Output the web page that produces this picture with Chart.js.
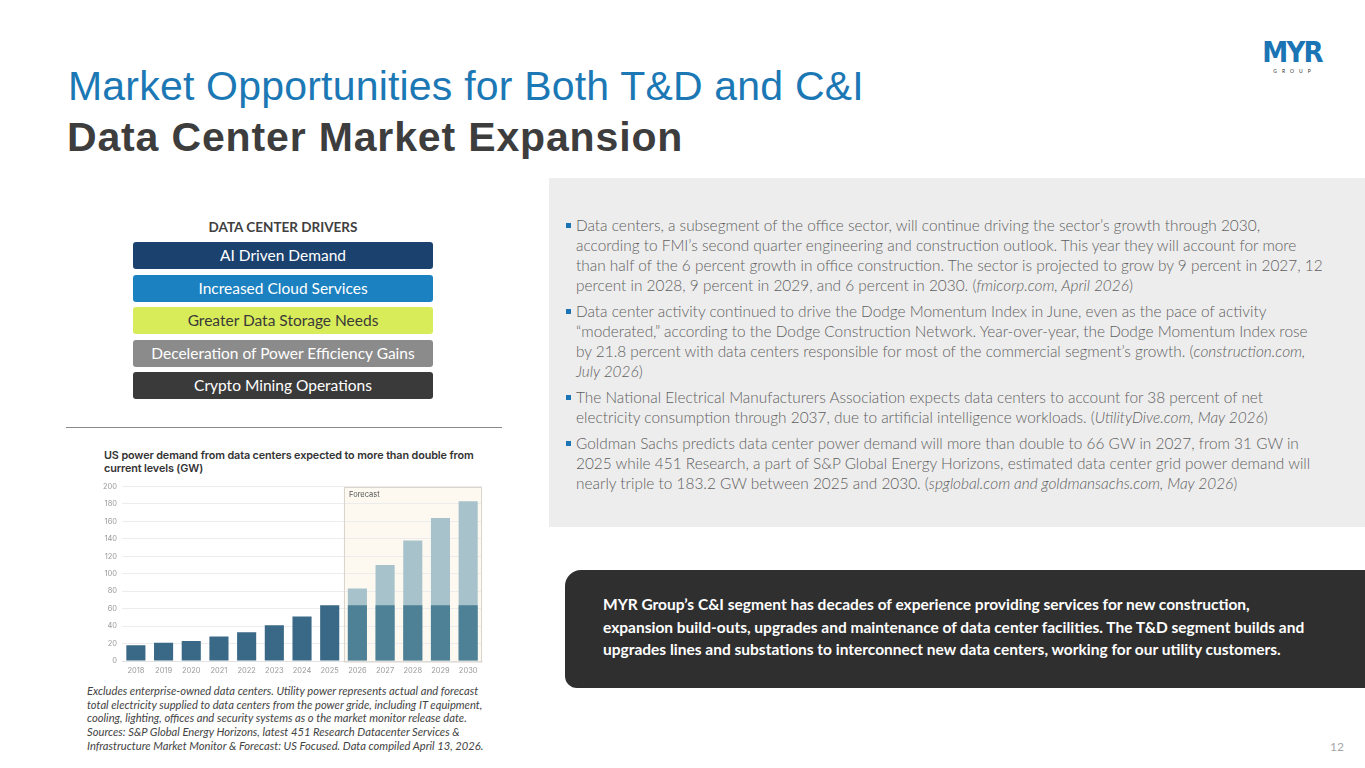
<!DOCTYPE html>
<html>
<head>
<meta charset="utf-8">
<script src="https://cdn.jsdelivr.net/npm/chart.js@4.4.1/dist/chart.umd.min.js"></script>
<style>
  html, body { margin: 0; padding: 0; }
  body { width: 1365px; height: 768px; position: relative; background: #fff; overflow: hidden; font-family: Lato, "Open Sans", sans-serif; }
  .abs { position: absolute; }
  #title1 { left: 68px; top: 63px; font-family: "Liberation Sans", Arial, sans-serif; font-size: 41px; color: #1b78b5; white-space: nowrap; letter-spacing: 0.2px; }
  #title2 { left: 67px; top: 114px; font-family: "Liberation Sans", Arial, sans-serif; font-size: 41px; font-weight: bold; color: #3d3d3d; white-space: nowrap; letter-spacing: 0.85px; }
  #logo { left: 1259px; top: 39px; width: 66px; text-align: center; color: #1b75b5; }
  #logo .m { font-family: "DejaVu Sans Condensed", "DejaVu Sans", sans-serif; font-weight: bold; font-size: 29px; line-height: 27px; letter-spacing: -1.8px; }
  #logo .g { font-size: 5px; letter-spacing: 5px; margin-left: 5px; color: #333; line-height: 6px; margin-top: 2px; }
  #panel { left: 549px; top: 178px; width: 816px; height: 349px; background: #ededed; }
  #bullets { left: 566px; top: 215px; color: #5f5f5f; font-size: 15.4px; line-height: 20px; letter-spacing: 0; font-weight: 300; }
  #bullets .b { position: relative; padding-left: 10px; margin-bottom: 6px; white-space: nowrap; }
  #bullets .b::before { content: ""; position: absolute; left: 0; top: 8px; width: 5px; height: 5px; background: #1b75b5; }
  #drvtitle { left: 133px; top: 219px; width: 300px; text-align: center; font-weight: bold; font-size: 13.5px; color: #404040; }
  .drv { left: 133px; width: 300px; height: 27px; border-radius: 3px; color: #fff; text-align: center; font-size: 15.5px; line-height: 27px; }
  #rule { left: 66px; top: 427px; width: 436px; height: 1px; background: #8a8a8a; }
  #ctitle { left: 104px; top: 450px; font-family: Inter, sans-serif; font-weight: 600; font-size: 10.8px; line-height: 12.5px; color: #333; white-space: nowrap; letter-spacing: -0.1px; }
  #chartwrap { left: 98px; top: 477px; width: 392px; height: 203px; }
  #foot { left: 87px; top: 684px; font-style: italic; font-size: 11.2px; line-height: 13.7px; color: #444; white-space: nowrap; }
  #dark { left: 565px; top: 570px; width: 800px; height: 118px; background: #2f2f2f; border-radius: 16px 0 0 12px; }
  #darktext { left: 603px; top: 593px; color: #fff; font-weight: bold; font-size: 15.5px; line-height: 22.5px; white-space: nowrap; }
  #pg { left: 1330px; top: 739px; font-size: 12px; color: #a6a6a6; }
</style>
</head>
<body>
<div id="title1" class="abs">Market Opportunities for Both T&amp;D and C&amp;I</div>
<div id="title2" class="abs">Data Center Market Expansion</div>
<div id="logo" class="abs"><div class="m">MYR</div><div class="g">GROUP</div></div>

<div id="panel" class="abs"></div>
<div id="bullets" class="abs">
  <div class="b">Data centers, a subsegment of the office sector, will continue driving the sector’s growth through 2030,<br>according to FMI’s second quarter engineering and construction outlook. This year they will account for more<br>than half of the 6 percent growth in office construction. The sector is projected to grow by 9 percent in 2027, 12<br>percent in 2028, 9 percent in 2029, and 6 percent in 2030. (<i>fmicorp.com, April 2026</i>)</div>
  <div class="b">Data center activity continued to drive the Dodge Momentum Index in June, even as the pace of activity<br>“moderated,” according to the Dodge Construction Network. Year-over-year, the Dodge Momentum Index rose<br>by 21.8 percent with data centers responsible for most of the commercial segment’s growth. (<i>construction.com,<br>July 2026</i>)</div>
  <div class="b">The National Electrical Manufacturers Association expects data centers to account for 38 percent of net<br>electricity consumption through 2037, due to artificial intelligence workloads. (<i>UtilityDive.com, May 2026</i>)</div>
  <div class="b">Goldman Sachs predicts data center power demand will more than double to 66 GW in 2027, from 31 GW in<br>2025 while 451 Research, a part of S&amp;P Global Energy Horizons, estimated data center grid power demand will<br>nearly triple to 183.2 GW between 2025 and 2030. (<i>spglobal.com and goldmansachs.com, May 2026</i>)</div>
</div>

<div id="drvtitle" class="abs">DATA CENTER DRIVERS</div>
<div class="abs drv" style="top:242px;background:#1b426f;">AI Driven Demand</div>
<div class="abs drv" style="top:275px;background:#1b81c0;">Increased Cloud Services</div>
<div class="abs drv" style="top:307px;background:#d8eb58;color:#3a3a3a;">Greater Data Storage Needs</div>
<div class="abs drv" style="top:340px;background:#8b8b8b;">Deceleration of Power Efficiency Gains</div>
<div class="abs drv" style="top:372px;background:#3a3a3a;">Crypto Mining Operations</div>
<div id="rule" class="abs"></div>

<div id="ctitle" class="abs">US power demand from data centers expected to more than double from<br>current levels (GW)</div>
<div id="chartwrap" class="abs"><canvas id="powerChart"></canvas></div>

<div id="foot" class="abs">Excludes enterprise-owned data centers. Utility power represents actual and forecast<br>total electricity supplied to data centers from the power gride, including IT equipment,<br>cooling, lighting, offices and security systems as o the market monitor release date.<br>Sources: S&amp;P Global Energy Horizons, latest 451 Research Datacenter Services &amp;<br>Infrastructure Market Monitor &amp; Forecast: US Focused. Data compiled April 13, 2026.</div>

<div id="dark" class="abs"></div>
<div id="darktext" class="abs">MYR Group’s C&amp;I segment has decades of experience providing services for new construction,<br>expansion build-outs, upgrades and maintenance of data center facilities. The T&amp;D segment builds and<br>upgrades lines and substations to interconnect new data centers, working for our utility customers.</div>
<div id="pg" class="abs">12</div>

<script>
// Chart data (GW)
const years = ['2018', '2019', '2020', '2021', '2022', '2023', '2024', '2025', '2026', '2027', '2028', '2029', '2030'];
const actualGW = [18, 21, 23, 28, 33, 41, 51, 64, 64, 64, 64, 64, 64];
const forecastTotalGW = [null, null, null, null, null, null, null, null, 83, 110, 138, 164, 183.2];
const forecastStart = 8; // index of first forecast year
const yTicks = [0, 20, 40, 60, 80, 100, 120, 140, 160, 180, 200];

const actualColors = years.map((y, i) => i < forecastStart ? '#3a6887' : '#4e8195');

// Forecast shaded region
function forecastLeft(scales) {
    return (scales.x.getPixelForValue(forecastStart - 1) + scales.x.getPixelForValue(forecastStart)) / 2;
}

const forecastBox = {
    id: 'forecastBox',
    beforeDraw(chart) {
        const { ctx, chartArea, scales } = chart;
        const x0 = forecastLeft(scales);
        ctx.save();
        ctx.fillStyle = '#fdf9f1';
        ctx.fillRect(x0, chartArea.top, chartArea.right - x0, chartArea.bottom - chartArea.top);
        ctx.restore();
    },
    afterDatasetsDraw(chart) {
        const { ctx, chartArea, scales } = chart;
        const x0 = Math.round(forecastLeft(scales));
        ctx.save();
        ctx.strokeStyle = '#d9d5cd';
        ctx.lineWidth = 1;
        ctx.strokeRect(x0 + 0.5, Math.round(chartArea.top) + 0.5, chartArea.right - x0 - 1, chartArea.bottom - chartArea.top);
        ctx.fillStyle = '#555';
        ctx.font = '7.5px Inter';
        ctx.textBaseline = 'top';
        ctx.fillText('Forecast', x0 + 5, chartArea.top + 4);
        ctx.restore();
    }
};

const ctx = document.getElementById('powerChart').getContext('2d');
const powerChart = new Chart(ctx, {
    type: 'bar',
    data: {
        labels: years,
        datasets: [{
            label: 'Actual / current',
            data: actualGW,
            backgroundColor: actualColors,
            grouped: false,
            order: 0
        }, {
            label: 'Forecast total',
            data: forecastTotalGW,
            backgroundColor: '#a8c2cb',
            grouped: false,
            order: 1
        }]
    },
    plugins: [forecastBox],
    options: {
        responsive: true,
        maintainAspectRatio: false,
        animation: false,
        categoryPercentage: 1,
        barPercentage: 0.69,
        layout: {
            padding: { top: 3, right: 8, left: 0, bottom: 0 }
        },
        plugins: {
            legend: { display: false },
            tooltip: { enabled: false }
        },
        scales: {
            y: {
                min: 0,
                max: 200,
                afterBuildTicks: function(axis) {
                    axis.ticks = yTicks.map(v => ({ value: v }));
                },
                grid: {
                    color: '#ececec',
                    drawTicks: false
                },
                border: { display: false },
                ticks: {
                    color: '#9a9a9a',
                    padding: 5,
                    font: { family: 'Inter', size: 7.5 }
                }
            },
            x: {
                grid: { display: false, drawTicks: false },
                border: { color: '#e2e2e2' },
                ticks: {
                    color: '#9a9a9a',
                    padding: 5,
                    maxRotation: 0,
                    font: { family: 'Inter', size: 7.5 }
                }
            }
        }
    }
});
</script>
</body>
</html>
